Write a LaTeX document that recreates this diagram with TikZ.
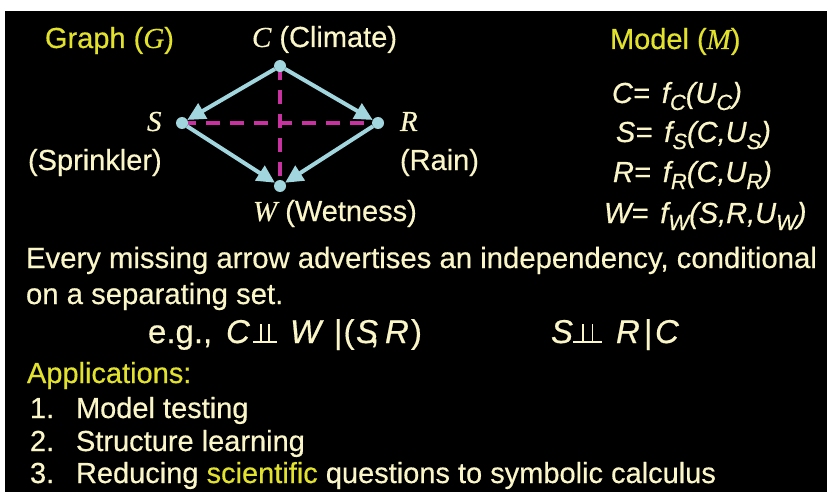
\documentclass[tikz,border=0pt]{standalone}
\usepackage{fontspec}
\setmainfont{Liberation Sans}[FakeBold=0.5]
\newfontfamily\tms{Liberation Serif}[FakeBold=0.4]
\usetikzlibrary{arrows.meta}
\definecolor{cream}{RGB}{250,246,200}
\definecolor{ylw}{RGB}{226,226,44}
\definecolor{edgeblue}{RGB}{162,214,222}
\definecolor{dmag}{RGB}{200,50,160}
\newcommand\bodyfont{\fontsize{29}{34}\selectfont}
\newcommand\eqfont{\fontsize{29}{34}\selectfont}
\newcommand\bigfont{\fontsize{33}{38}\selectfont}
\newcommand\tv[1]{{\tms\itshape #1}}
\newcommand\sbx[1]{\raisebox{-7pt}{\fontsize{22}{22}\selectfont #1}}
\newcommand\indepbar[1]{\hbox{\rlap{\rule{#1}{1.8pt}}\kern0.3\dimexpr#1\relax\rule{1.8pt}{19pt}\kern\dimexpr0.4\dimexpr#1\relax-3.6pt\relax\rule{1.8pt}{19pt}\kern0.3\dimexpr#1\relax}}
\begin{document}
\begin{tikzpicture}[x=1pt,y=-1pt,
  every node/.style={inner sep=0pt,outer sep=0pt},
  lbl/.style={anchor=base west,text=cream,font=\bodyfont},
  ttl/.style={anchor=base west,text=ylw,font=\bodyfont},
  eqn/.style={anchor=base west,text=cream,font=\eqfont\itshape},
  big/.style={anchor=base west,text=cream,font=\bigfont},
  bigit/.style={anchor=base west,text=cream,font=\bigfont\itshape},
  dot/.style={circle,fill=edgeblue,minimum size=12pt},
  edge/.style={draw=edgeblue,line width=4pt,-{Triangle[length=18pt,width=17pt]}},
  dline/.style={draw=dmag,line width=3.5pt,dash pattern=on 14pt off 10pt}]
\useasboundingbox (0,0) rectangle (827,492);
\fill[white] (0,0) rectangle (827,492);
\fill[black] (5,11) rectangle (827,492);
% graph
\coordinate (c) at (280,66);
\coordinate (s) at (182,123);
\coordinate (r) at (378,123);
\coordinate (w) at (280,186);
\draw[dline] (s) -- (r);
\draw[dline] (c) -- (w);
\node[dot] (C) at (c) {};
\node[dot] (S) at (s) {};
\node[dot] (R) at (r) {};
\node[dot] (W) at (w) {};
\draw[edge] (C) -- (S);
\draw[edge] (C) -- (R);
\draw[edge] (S) -- (W);
\draw[edge] (R) -- (W);
% titles and labels
\node[ttl] (gt) at (45,48) {Graph (\tv{G})};
\node[lbl] (ct) at (252,47) {\tv{C} (Climate)};
\node[ttl] (mt) at (610,49) {Model (\tv{M})};
\node[lbl] (sl) at (147,131) {\tv{S}};
\node[lbl] (sp) at (28,170) {(Sprinkler)};
\node[lbl] (rl) at (400,131) {\tv{R}};
\node[lbl] (rp) at (400,170) {(Rain)};
\node[lbl] (wl) at (253,221) {\tv{W} (Wetness)};
% equations
\node[eqn] (e1) at (612,103) {C=\hspace{12pt}f\sbx{C}(U\sbx{C})};
\node[eqn] (e2) at (616,142) {S=\hspace{12pt}f\sbx{S}(C,U\sbx{S})};
\node[eqn] (e3) at (613,182) {R=\hspace{12pt}f\sbx{R}(C,U\sbx{R})};
\node[eqn] (e4) at (604,223) {W=\hspace{12pt}f\sbx{W}(S,R,U\sbx{W})};
% body
\node[lbl,font=\fontsize{29.3}{34}\selectfont] (l1) at (26,268) {Every missing arrow advertises an independency, conditional};
\node[lbl,font=\fontsize{29.3}{34}\selectfont] (l2) at (26,304) {on a separating set.};
\node[big] (eg) at (148,343) {e.g.,};
\node[bigit] (egC) at (226,343) {C};
\node[lbl] (egI) at (253,343) {\indepbar{24pt}};
\node[bigit] (egW) at (290,343) {W};
\node[big] (egB) at (334,343) {|\kern1pt(};
\node[bigit] (egS) at (356,343) {S};
\node[big] (egK) at (370,343) {,};
\node[bigit] (egR) at (385,343) {R};
\node[big] (egP) at (411,343) {)};
\node[bigit] (fS) at (551,343) {S};
\node[lbl] (fI) at (573,343) {\indepbar{29pt}};
\node[bigit] (fR) at (616,343) {R};
\node[big] (fB) at (644,343) {|};
\node[bigit] (fC) at (655,343) {C};
\node[ttl] (ap) at (27,383) {Applications:};
\node[lbl] (i1) at (30,418) {\makebox[46pt][l]{1.}Model testing};
\node[lbl] (i2) at (30,451) {\makebox[46pt][l]{2.}Structure learning};
\node[lbl] (i3) at (30,483) {\makebox[46pt][l]{3.}Reducing \textcolor{ylw}{scientific} questions to symbolic calculus};
\end{tikzpicture}
\end{document}
